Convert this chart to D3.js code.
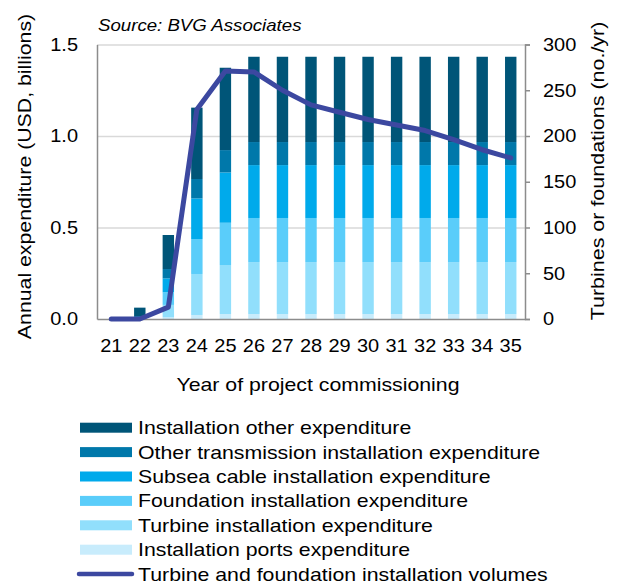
<!DOCTYPE html>
<html>
<head>
<meta charset="utf-8">
<script src="https://cdn.jsdelivr.net/npm/d3@7"></script>
<style>
  body { margin: 0; background: #fff; }
  svg { font-family: 'Liberation Sans', Arial, sans-serif; }
</style>
</head>
<body>
<div id="chart"></div>
<script>
const years = ['21','22','23','24','25','26','27','28','29','30','31','32','33','34','35'];

// expenditure per component, USD billions
const portsExp        = [0, 0,     0.009, 0.022, 0.027, 0.027, 0.027, 0.027, 0.027, 0.027, 0.027, 0.027, 0.027, 0.027, 0.027];
const turbineExp      = [0, 0,     0.068, 0.224, 0.268, 0.284, 0.284, 0.284, 0.284, 0.284, 0.284, 0.284, 0.284, 0.284, 0.284];
const foundationExp   = [0, 0,     0.069, 0.191, 0.231, 0.241, 0.241, 0.241, 0.241, 0.241, 0.241, 0.241, 0.241, 0.241, 0.241];
const subseaExp       = [0, 0.004, 0.076, 0.222, 0.275, 0.289, 0.289, 0.289, 0.289, 0.289, 0.289, 0.289, 0.289, 0.289, 0.289];
const otherTransExp   = [0, 0.012, 0.051, 0.106, 0.122, 0.126, 0.126, 0.126, 0.126, 0.126, 0.126, 0.126, 0.126, 0.126, 0.126];
const otherExp        = [0, 0.046, 0.186, 0.390, 0.450, 0.466, 0.466, 0.466, 0.466, 0.466, 0.466, 0.466, 0.466, 0.466, 0.466];

// turbines or foundations installed per year
const volumes = [0, 0, 13, 229, 271, 270, 250, 234, 226, 218, 212, 206, 196, 185, 176];

const yLeftTicks = [0, 0.5, 1.0, 1.5];
const yRightTicks = [0, 50, 100, 150, 200, 250, 300];

const seriesNames = [
  'Installation ports expenditure',
  'Turbine installation expenditure',
  'Foundation installation expenditure',
  'Subsea cable installation expenditure',
  'Other transmission installation expenditure',
  'Installation other expenditure'
];
const seriesColors = ['#c8ecfc', '#91dffc', '#5acdfa', '#00aaeb', '#0078aa', '#005578'];
const lineName = 'Turbine and foundation installation volumes';
const lineColor = '#3c48a0';

const width = 618, height = 581;
const margin = { top: 44.5, right: 93, bottom: 262, left: 97 };

// the reference font is a bit wider than Arial, stretch text to match
function stretch(sel, k) {
  sel.each(function() {
    const w = this.getComputedTextLength();
    d3.select(this).attr('textLength', w * k).attr('lengthAdjust', 'spacingAndGlyphs');
  });
}

const rows = years.map((y, i) => ({
  year: y,
  s0: portsExp[i], s1: turbineExp[i], s2: foundationExp[i],
  s3: subseaExp[i], s4: otherTransExp[i], s5: otherExp[i],
  vol: volumes[i]
}));

const svg = d3.select('#chart').append('svg')
  .attr('width', width).attr('height', height);

const x = d3.scaleBand()
  .domain(years)
  .range([margin.left, width - margin.right])
  .paddingInner(0.6).paddingOuter(0.3);

const xPoint = d => x(d) + x.bandwidth() / 2;

const yL = d3.scaleLinear().domain([0, 1.5]).range([height - margin.bottom, margin.top]);
const yR = d3.scaleLinear().domain([0, 300]).range([height - margin.bottom, margin.top]);

// gridlines
svg.append('g')
  .attr('transform', `translate(${margin.left},0)`)
  .call(d3.axisLeft(yL).tickValues(yLeftTicks.slice(1)).tickFormat('').tickSize(-(width - margin.left - margin.right)))
  .call(g => g.select('.domain').remove())
  .call(g => g.selectAll('line').attr('stroke', '#d9d9d9').attr('stroke-width', 1.5));

// stacked bars
const keys = ['s0', 's1', 's2', 's3', 's4', 's5'];
const stacked = d3.stack().keys(keys)(rows);

svg.append('g').selectAll('g')
  .data(stacked)
  .join('g')
  .attr('fill', (d, i) => seriesColors[i])
  .selectAll('rect')
  .data(d => d)
  .join('rect')
  .attr('x', d => x(d.data.year))
  .attr('width', x.bandwidth())
  .attr('y', d => yL(d[1]))
  .attr('height', d => Math.max(0, yL(d[0]) - yL(d[1])));

const tickFont = 18.5;

// left axis
svg.append('g')
  .attr('transform', `translate(${margin.left},0)`)
  .call(d3.axisLeft(yL).tickValues(yLeftTicks).tickFormat(d3.format('.1f')).tickSize(0).tickPadding(19))
  .call(g => g.select('.domain').attr('stroke', '#8c8c8c').attr('stroke-width', 1.5))
  .call(g => g.selectAll('text').attr('font-size', tickFont).attr('fill', '#000')
    .attr('font-family', 'Liberation Sans, Arial, sans-serif').call(stretch, 1.08));

// right axis
svg.append('g')
  .attr('transform', `translate(${width - margin.right},0)`)
  .call(d3.axisRight(yR).tickValues(yRightTicks).tickSize(5).tickPadding(13))
  .call(g => g.select('.domain').attr('stroke', '#8c8c8c').attr('stroke-width', 1.5))
  .call(g => g.selectAll('line').attr('stroke', '#8c8c8c').attr('stroke-width', 1.5))
  .call(g => g.selectAll('text').attr('font-size', tickFont).attr('fill', '#000')
    .attr('font-family', 'Liberation Sans, Arial, sans-serif').call(stretch, 1.08));

// bottom axis
svg.append('g')
  .attr('transform', `translate(0,${height - margin.bottom})`)
  .call(d3.axisBottom(x).tickSize(0))
  .call(g => g.select('.domain').attr('stroke', '#8c8c8c').attr('stroke-width', 1.5))
  .call(g => g.selectAll('text').attr('y', 33).attr('dy', 0).attr('font-size', tickFont).attr('fill', '#000')
    .attr('font-family', 'Liberation Sans, Arial, sans-serif').call(stretch, 1.08));

// volumes line
const line = d3.line()
  .x(d => xPoint(d.year))
  .y(d => yR(d.vol));

svg.append('path')
  .datum(rows)
  .attr('d', line)
  .attr('fill', 'none')
  .attr('stroke', lineColor)
  .attr('stroke-width', 5)
  .attr('stroke-linejoin', 'round')
  .attr('stroke-linecap', 'round');

// titles
const labelFont = 19;

svg.append('text')
  .attr('x', 98).attr('y', 30.5)
  .attr('font-size', 16.5).attr('font-style', 'italic')
  .text('Source: BVG Associates')
  .call(stretch, 1.13);

svg.append('text')
  .attr('transform', `translate(31,176.5) rotate(-90)`)
  .attr('text-anchor', 'middle')
  .attr('font-size', labelFont)
  .text('Annual expenditure (USD, billions)')
  .call(stretch, 1.12);

svg.append('text')
  .attr('transform', `translate(604,171) rotate(-90)`)
  .attr('text-anchor', 'middle')
  .attr('font-size', labelFont)
  .text('Turbines or foundations (no./yr)')
  .call(stretch, 1.13);

svg.append('text')
  .attr('x', 318).attr('y', 391)
  .attr('text-anchor', 'middle')
  .attr('font-size', labelFont)
  .text('Year of project commissioning')
  .call(stretch, 1.12);

// legend
const legendItems = seriesNames.map((n, i) => ({ name: n, color: seriesColors[i], type: 'bar' })).reverse();
legendItems.push({ name: lineName, color: lineColor, type: 'line' });

const legend = svg.append('g').selectAll('g')
  .data(legendItems)
  .join('g')
  .attr('transform', (d, i) => `translate(80,${427.7 + i * 24.4})`);

legend.filter(d => d.type === 'bar').append('rect')
  .attr('x', 0).attr('y', -5).attr('width', 52).attr('height', 10)
  .attr('fill', d => d.color);

legend.filter(d => d.type === 'line').append('line')
  .attr('x1', -1).attr('x2', 52).attr('y1', 0).attr('y2', 0)
  .attr('stroke', d => d.color).attr('stroke-width', 4.5).attr('stroke-linecap', 'round');

legend.append('text')
  .attr('x', 58).attr('y', 6.5)
  .attr('font-size', labelFont)
  .text(d => d.name)
  .call(stretch, 1.12);
</script>
</body>
</html>
